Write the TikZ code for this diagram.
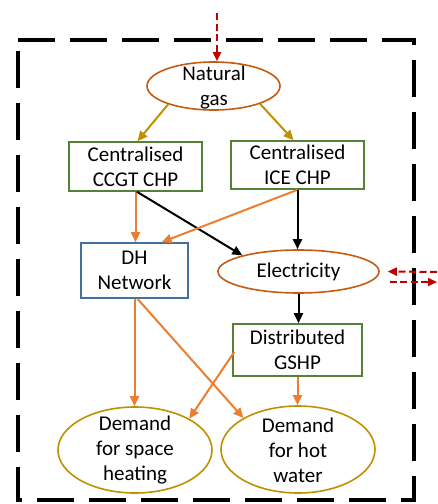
\documentclass[tikz,border=0pt]{standalone}
\usepackage{fontspec}
\setmainfont{Carlito}
\usetikzlibrary{arrows.meta,shapes.geometric,calc}
\definecolor{ovalbrown}{HTML}{C55A11}
\definecolor{boxgreen}{HTML}{548235}
\definecolor{boxblue}{HTML}{41719C}
\definecolor{gold}{HTML}{BF9000}
\definecolor{heatorange}{HTML}{ED7D31}
\definecolor{importred}{HTML}{C00000}
\begin{document}
\begin{tikzpicture}[x=1pt,y=-1pt,
  txt/.style={align=center,font=\fontsize{21}{25}\selectfont,inner sep=0pt},
  box/.style={draw,line width=1.6pt,inner sep=0pt,txt},
  oval/.style={ellipse,draw,line width=1.6pt,inner sep=0pt},
  flow/.style={line width=2pt,-{Triangle[length=10pt,width=9pt]}},
  gasflow/.style={flow,draw=gold},
  heatflow/.style={flow,draw=heatorange},
  powerflow/.style={flow,draw=black},
  trade/.style={line width=2pt,draw=importred,dash pattern=on 7pt off 3.5pt,
    -{Triangle[length=9pt,width=8pt]}}]
\useasboundingbox (0,0) rectangle (437,504);

% system boundary
\draw[line width=4.5pt,dash pattern=on 37pt off 15pt,dash phase=0pt]
  (18,40) -- (414,40) -- (414,500) -- (18,500) -- cycle;

% fuel and electricity carriers
\node[oval,draw=ovalbrown,minimum width=133pt,minimum height=48pt] (gas) at (213.5,86) {};
\node[txt] (gastxt) at (214,88) {Natural\\gas};
\node[oval,draw=ovalbrown,minimum width=161pt,minimum height=43pt,txt] (elec) at (298.5,271.5) {Electricity};

% conversion units
\node[box,draw=boxgreen,minimum width=133pt,minimum height=49pt] (ccgt) at (135.5,166.5) {Centralised\\CCGT CHP};
\node[box,draw=boxgreen,minimum width=133pt,minimum height=48pt] (ice) at (297.5,165) {Centralised\\ICE CHP};
\node[box,draw=boxblue,minimum width=107pt,minimum height=55pt] (dh) at (134.5,270.5) {DH\\Network};
\node[box,draw=boxgreen,minimum width=129pt,minimum height=52pt] (gshp) at (297.5,350) {Distributed\\GSHP};

% heat demands
\node[oval,draw=gold,minimum width=154pt,minimum height=86pt] (space) at (135,450) {};
\node[txt] (spacetxt) at (135,450) {Demand\\for space\\heating};
\node[oval,draw=gold,minimum width=154pt,minimum height=87pt] (water) at (298,449.5) {};
\node[txt] (watertxt) at (298,450) {Demand\\for hot\\water};

% external connections
\coordinate (gasin) at (217,13);
\coordinate (elecin) at (437,272);
\coordinate (elecout) at (437,282);
\draw[trade] (gasin) -- (gasin |- gas.north);
\draw[trade] (elecin) -- ([xshift=8pt]elec.east);
\draw[trade] ([xshift=10pt,yshift=-10.5pt]elec.east) -- (elecout);

% gas to CHP units
\draw[gasflow] (gas.202) -- ([xshift=2pt]ccgt.north);
\draw[gasflow] (gas.339) -- ([xshift=-4pt]ice.north);

% CHP outputs
\draw[heatflow] (ccgt.south) -- (ccgt.south |- dh.north);
\draw[powerflow] ([xshift=1.5pt]ccgt.south) -- (elec.164);
\draw[heatflow] (ice.south) -- ($(dh.north)!0.5!(dh.north east)$);
\draw[powerflow] (ice.south) -- (ice.south |- elec.north);
\draw[powerflow] (elec.south) -- (elec.south |- gshp.north);

% heat supply to demands
\draw[heatflow] (dh.south) -- (dh.south |- space.north);
\draw[heatflow] ([xshift=3pt]dh.south) -- (water.150);
\draw[heatflow] ([xshift=2pt,yshift=-2pt]gshp.west) -- (space.30);
\draw[heatflow] (gshp.south) -- (gshp.south |- water.north);
\end{tikzpicture}
\end{document}
